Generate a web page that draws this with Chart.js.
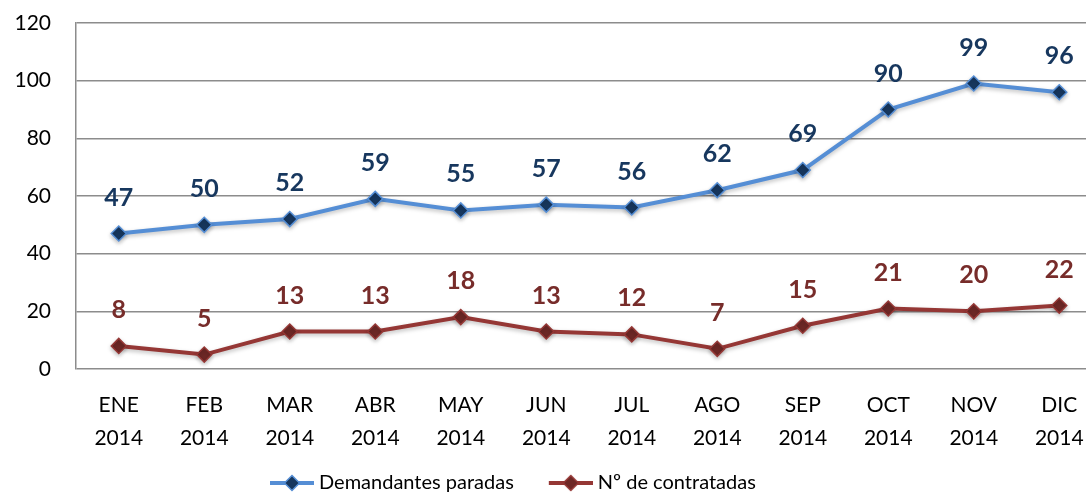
<!DOCTYPE html>
<html>
<head>
<meta charset="utf-8">
<script src="https://cdn.jsdelivr.net/npm/chart.js@4/dist/chart.umd.min.js"></script>
<style>
html,body{margin:0;padding:0;background:#fff;overflow:hidden;}
#wrap{position:relative;width:1146px;height:503px;}
</style>
</head>
<body>
<div id="wrap"><canvas id="c"></canvas></div>
<script>
const categories = [["ENE","2014"],["FEB","2014"],["MAR","2014"],["ABR","2014"],["MAY","2014"],["JUN","2014"],["JUL","2014"],["AGO","2014"],["SEP","2014"],["OCT","2014"],["NOV","2014"],["DIC","2014"]];
const demandantesParadas = [47,50,52,59,55,57,56,62,69,90,99,96];
const contratadas = [8,5,13,13,18,13,12,7,15,21,20,22];
const seriesNames = ["Demandantes paradas","Nº de contratadas"];
const yTicks = {min:0,max:120,step:20};

const FONT = "Lato, 'Open Sans', sans-serif";
const ICON_BOX = 66;

function legendIcon(line, fill, border){
  const cv = document.createElement('canvas');
  const W = ICON_BOX + 10;
  cv.width = W; cv.height = 18;
  const g = cv.getContext('2d');
  g.strokeStyle = line; g.lineWidth = 4;
  g.beginPath(); g.moveTo(W - 44, 9); g.lineTo(W, 9); g.stroke();
  const cx = W - 22;
  g.fillStyle = fill; g.strokeStyle = border; g.lineWidth = 1.5;
  g.beginPath(); g.moveTo(cx,1.5); g.lineTo(cx+7.5,9); g.lineTo(cx,16.5); g.lineTo(cx-7.5,9); g.closePath();
  g.fill(); g.stroke();
  return cv;
}

const styles = [
  {line:'#558ED5', fill:'#17375E', border:'#558ED5', label:'#17375E'},
  {line:'#953735', fill:'#6E2826', border:'#953735', label:'#772C2A'}
];

const dataLabels = {
  id:'dataLabels',
  afterLayout(chart){
    const lg = chart.legend;
    if (!lg || !lg.lineWidths) return;
    const pad = lg.options.labels.padding;
    const x0 = (lg.left + pad + lg.right - lg.lineWidths[0]) / 2;
    const target = 270 - (ICON_BOX + 5 - 44);
    const shift = target - x0;
    lg.left += shift; lg.right += shift;
  },
  beforeDatasetsDraw(chart){
    chart.ctx.save();
    chart.ctx.shadowColor = 'rgba(0,0,0,0.25)';
    chart.ctx.shadowBlur = 4;
    chart.ctx.shadowOffsetY = 2;
  },
  afterDatasetsDraw(chart){
    const ctx = chart.ctx;
    ctx.restore();
    ctx.save();
    ctx.font = "bold 25px " + FONT;
    ctx.textAlign = 'center';
    ctx.textBaseline = 'middle';
    chart.data.datasets.forEach((ds,i)=>{
      const meta = chart.getDatasetMeta(i);
      ctx.fillStyle = styles[i].label;
      meta.data.forEach((pt,j)=>{
        ctx.fillText(String(ds.data[j]), pt.x, pt.y - 36);
      });
    });
    ctx.restore();
  }
};

new Chart(document.getElementById('c'), {
  type:'line',
  data:{
    labels:categories,
    datasets:[
      {label:seriesNames[0], data:demandantesParadas, borderColor:styles[0].line, borderWidth:4,
       pointStyle:'rectRot', pointRadius:7.5, pointBackgroundColor:styles[0].fill, pointBorderColor:styles[0].border, pointBorderWidth:1.5, tension:0},
      {label:seriesNames[1], data:contratadas, borderColor:styles[1].line, borderWidth:4,
       pointStyle:'rectRot', pointRadius:7.5, pointBackgroundColor:styles[1].fill, pointBorderColor:styles[1].border, pointBorderWidth:1.5, tension:0}
    ]
  },
  options:{
    responsive:true,
    maintainAspectRatio:false,
    animation:false,
    layout:{padding:{left:0,right:44,top:23,bottom:0}},
    scales:{
      x:{
        offset:true,
        grid:{display:false, drawTicks:false},
        border:{display:false},
        ticks:{color:'#000', font:{family:FONT,size:21,lineHeight:1.55}, padding:20, maxRotation:0, autoSkip:false},
        afterFit(s){ s.height = 96; }
      },
      y:{
        min:yTicks.min, max:yTicks.max,
        grid:{color:'#8C8C8C', lineWidth:1.5, drawTicks:false},
        border:{display:true, color:'#8C8C8C', width:1.5},
        ticks:{stepSize:yTicks.step, color:'#000', font:{family:FONT,size:21}, padding:25},
        afterFit(s){ s.width = 76; s.paddingTop = 12; s.paddingBottom = 12; }
      }
    },
    plugins:{
      legend:{
        position:'bottom',
        labels:{
          usePointStyle:true, pointStyleWidth:ICON_BOX, padding:8,
          color:'#000', font:{family:FONT,size:20},
          generateLabels(chart){
            return chart.data.datasets.map((ds,i)=>({
              text:ds.label, pointStyle:legendIcon(styles[i].line,styles[i].fill,styles[i].border),
              fillStyle:styles[i].fill, strokeStyle:styles[i].line, lineWidth:0, datasetIndex:i, hidden:false
            }));
          }
        }
      },
      tooltip:{enabled:false}
    }
  },
  plugins:[dataLabels]
});
</script>
</body>
</html>
